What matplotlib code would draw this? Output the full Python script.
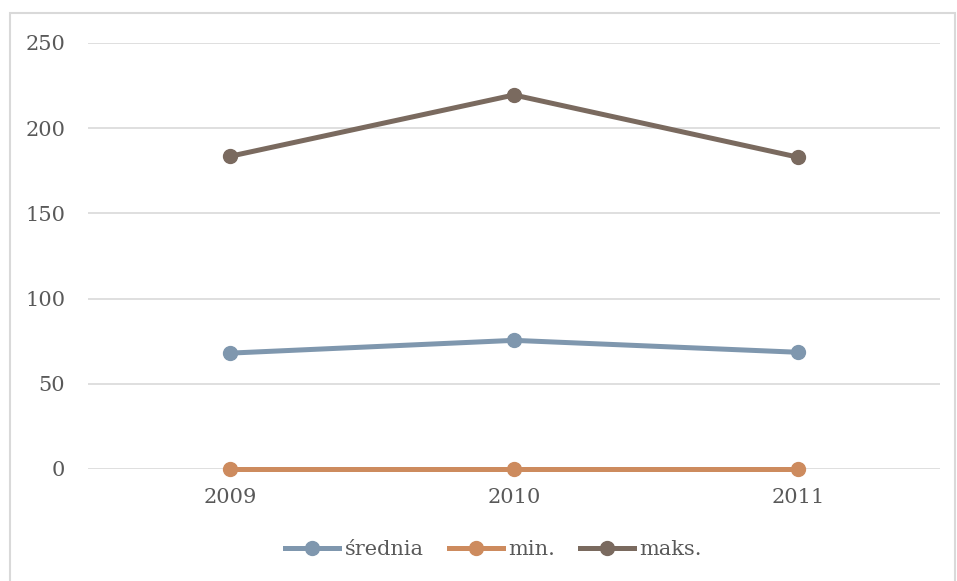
import matplotlib.pyplot as plt
from matplotlib.patches import Rectangle

years = ['2009', '2010', '2011']
srednia = [68.0, 75.5, 68.5]
minimum = [0.0, 0.0, 0.0]
maks = [183.5, 219.5, 183.0]

plt.rcParams['font.family'] = ['DejaVu Serif']

fig = plt.figure(figsize=(9.57, 5.81), dpi=100)
# chart frame
fig.patches.append(Rectangle((10 / 957, -0.05), 945 / 957, 1.05 - 13 / 581,
                             transform=fig.transFigure, fill=False,
                             edgecolor='#D9D9D9', linewidth=1.5))

ax = fig.add_axes([88 / 957, 112 / 581, 852 / 957, 426 / 581])
x = range(len(years))
ax.plot(x, srednia, 'o-', color='#7F97AE', lw=3.6, ms=10, label='średnia', clip_on=False)
ax.plot(x, minimum, 'o-', color='#CD8B5E', lw=3.6, ms=10, label='min.', clip_on=False)
ax.plot(x, maks, 'o-', color='#7A6A5F', lw=3.6, ms=10, label='maks.', clip_on=False)

ax.set_xlim(-0.5, 2.5)
ax.set_ylim(0, 250)
ax.set_yticks(range(0, 251, 50))
ax.set_xticks(list(x))
ax.set_xticklabels(years)
ax.grid(axis='y', color='#D9D9D9', lw=1.2)
ax.set_axisbelow(True)
for s in ax.spines.values():
    s.set_visible(False)
ax.tick_params(length=0, labelsize=15, labelcolor='#595959')
ax.tick_params(axis='y', pad=16.5)
ax.tick_params(axis='x', pad=14)

ax.legend(loc='center', bbox_to_anchor=(0.476, -0.19), ncol=3, frameon=False,
          fontsize=15, labelcolor='#595959', handlelength=2.6, handletextpad=0.25,
          columnspacing=1.2)

fig.savefig('out.png', dpi=100)
